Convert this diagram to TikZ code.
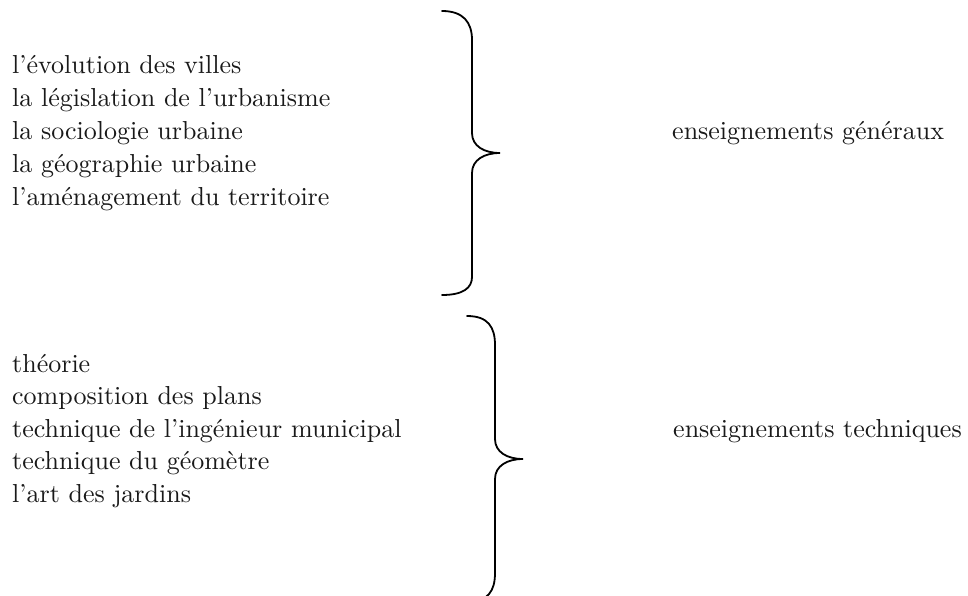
\documentclass[tikz,border=0pt]{standalone}
\usepackage{fontspec}
\setmainfont{lmroman10-regular}[Extension=.otf]
\begin{document}
\begin{tikzpicture}[x=1pt,y=-1pt,
  item/.style={anchor=base west,inner sep=0pt,font=\fontsize{26}{30}\selectfont,text=black!90},
  bracepath/.style={line width=1.8pt,line cap=round}]
\useasboundingbox (0,0) rectangle (968,595);
\clip (0,0) rectangle (968,595);
% group 1
\node[item] (a1) at (12,73.5) {l’évolution des villes};
\node[item] (a2) at (12,106) {la législation de l’urbanisme};
\node[item] (a3) at (12,139) {la sociologie urbaine};
\node[item] (a4) at (12,172) {la géographie urbaine};
\node[item] (a5) at (12,205) {l’aménagement du territoire};
\node[item] (lab1) at (672,139) {enseignements généraux};
% group 2
\node[item] (b1) at (12,372) {théorie};
\node[item] (b2) at (12,404.5) {composition des plans};
\node[item] (b3) at (12,437) {technique de l’ingénieur municipal};
\node[item] (b4) at (12,469.5) {technique du géomètre};
\node[item] (b5) at (12,502) {l’art des jardins};
\node[item] (lab2) at (673,437) {enseignements techniques};
% brace 1
\coordinate (t1) at (500,153);
\draw[bracepath] (442,11) .. controls (463,11) and (472,22) .. (472,40)
  -- (472,133) .. controls (472,146) and (484,153) .. (t1)
  .. controls (484,153) and (472,160) .. (472,173)
  -- (472,277) .. controls (472,288) and (463,295) .. (442,295);
% brace 2
\coordinate (t2) at (523,459);
\draw[bracepath] (467,316) .. controls (488,316) and (495,327) .. (495,345)
  -- (495,439) .. controls (495,452) and (507,459) .. (t2)
  .. controls (507,459) and (495,466) .. (495,479)
  -- (495,573) .. controls (495,591) and (488,602) .. (467,602);
\end{tikzpicture}
\end{document}
